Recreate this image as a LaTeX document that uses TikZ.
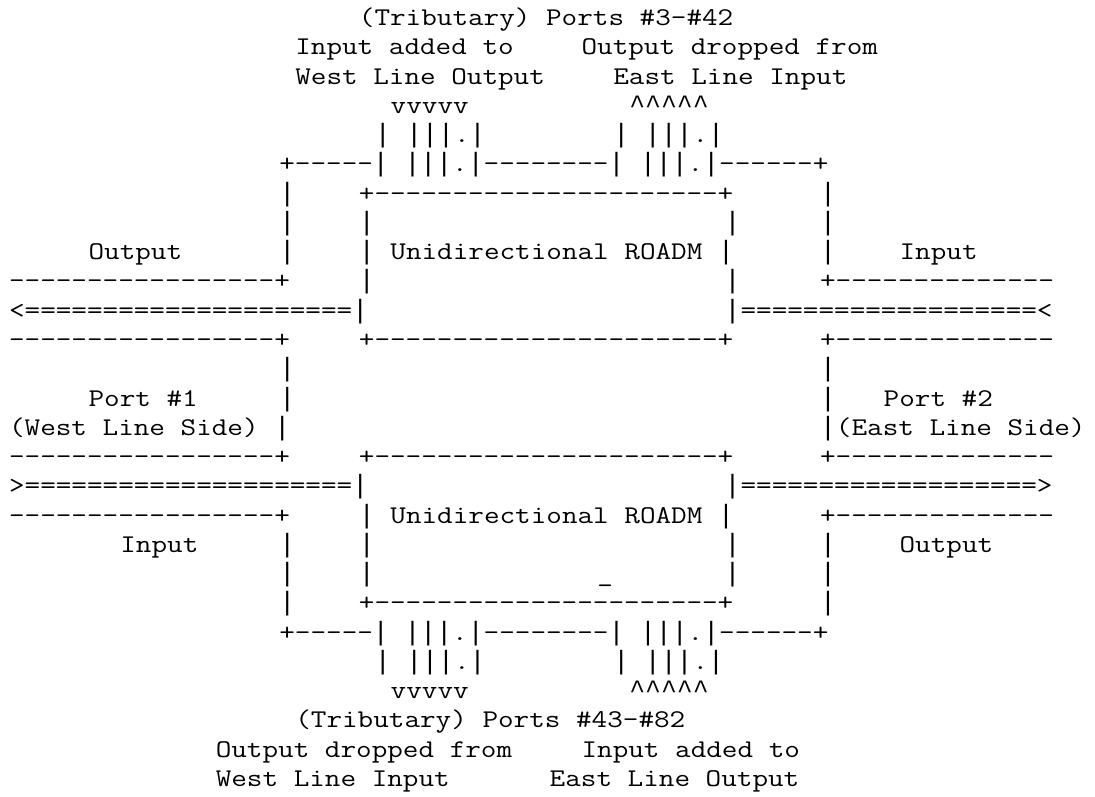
\documentclass[tikz,border=0pt]{standalone}
\usepackage{fontspec}
\newfontfamily\libmono{Liberation Mono}
\newcommand\vb{\scalebox{0.8418}[1]{\libmono\fontsize{26.5}{29.27}\selectfont|}}
\newcommand\crt{\scalebox{0.8418}[1]{\libmono\fontsize{26.5}{29.27}\selectfont\textasciicircum}}
\begin{document}
\begin{tikzpicture}[x=1pt,y=1pt,
  txt/.style={inner sep=0pt, outer sep=0pt, anchor=base west,
    font=\ttfamily\fontsize{25.5}{29.27}\selectfont, text=black}]
\newcommand\asciirow[3]{\node[txt, name=r#1c#2] at ({9.05+15.9026*#2},{796-25.5-29.27*#1}) {\scalebox{1.1879}[1]{#3}};}
\fill[white] (0,0) rectangle (1095,796);
\useasboundingbox (0,0) rectangle (1095,796);
% top tributary labels
\asciirow{0}{22}{(Tributary) Ports \#3-\#42}
\asciirow{1}{18}{Input added to}
\asciirow{1}{36}{Output dropped from}
\asciirow{2}{18}{West Line Output}
\asciirow{2}{38}{East Line Input}
\asciirow{3}{24}{vvvvv}
\asciirow{3}{39}{\crt\crt\crt\crt\crt}
\asciirow{4}{23}{\vb{} \vb\vb\vb.\vb}
\asciirow{4}{38}{\vb{} \vb\vb\vb.\vb}
\asciirow{5}{17}{+-----\vb{} \vb\vb\vb.\vb--------\vb{} \vb\vb\vb.\vb------+}
% upper ROADM
\asciirow{6}{17}{\vb}
\asciirow{6}{22}{+----------------------+}
\asciirow{6}{51}{\vb}
\asciirow{7}{17}{\vb}
\asciirow{7}{22}{\vb}
\asciirow{7}{45}{\vb}
\asciirow{7}{51}{\vb}
\asciirow{8}{5}{Output}
\asciirow{8}{17}{\vb}
\asciirow{8}{22}{\vb{} Unidirectional ROADM \vb}
\asciirow{8}{51}{\vb}
\asciirow{8}{56}{Input}
\asciirow{9}{0}{-----------------+}
\asciirow{9}{22}{\vb}
\asciirow{9}{45}{\vb}
\asciirow{9}{51}{+--------------}
\asciirow{10}{0}{<=====================\vb}
\asciirow{10}{45}{\vb===================<}
\asciirow{11}{0}{-----------------+}
\asciirow{11}{22}{+----------------------+}
\asciirow{11}{51}{+--------------}
% middle
\asciirow{12}{17}{\vb}
\asciirow{12}{51}{\vb}
\asciirow{13}{5}{Port \#1}
\asciirow{13}{17}{\vb}
\asciirow{13}{51}{\vb}
\asciirow{13}{55}{Port \#2}
\asciirow{14}{0}{(West Line Side) \vb}
\asciirow{14}{51}{\vb(East Line Side)}
% lower ROADM
\asciirow{15}{0}{-----------------+}
\asciirow{15}{22}{+----------------------+}
\asciirow{15}{51}{+--------------}
\asciirow{16}{0}{>=====================\vb}
\asciirow{16}{45}{\vb===================>}
\asciirow{17}{0}{-----------------+}
\asciirow{17}{22}{\vb{} Unidirectional ROADM \vb}
\asciirow{17}{51}{+--------------}
\asciirow{18}{7}{Input}
\asciirow{18}{17}{\vb}
\asciirow{18}{22}{\vb}
\asciirow{18}{45}{\vb}
\asciirow{18}{51}{\vb}
\asciirow{18}{56}{Output}
\asciirow{19}{17}{\vb}
\asciirow{19}{22}{\vb}
\asciirow{19}{37}{\_}
\asciirow{19}{45}{\vb}
\asciirow{19}{51}{\vb}
\asciirow{20}{17}{\vb}
\asciirow{20}{22}{+----------------------+}
\asciirow{20}{51}{\vb}
% bottom tributary
\asciirow{21}{17}{+-----\vb{} \vb\vb\vb.\vb--------\vb{} \vb\vb\vb.\vb------+}
\asciirow{22}{23}{\vb{} \vb\vb\vb.\vb}
\asciirow{22}{38}{\vb{} \vb\vb\vb.\vb}
\asciirow{23}{24}{vvvvv}
\asciirow{23}{39}{\crt\crt\crt\crt\crt}
\asciirow{24}{18}{(Tributary) Ports \#43-\#82}
\asciirow{25}{13}{Output dropped from}
\asciirow{25}{36}{Input added to}
\asciirow{26}{13}{West Line Input}
\asciirow{26}{34}{East Line Output}
\end{tikzpicture}
\end{document}
